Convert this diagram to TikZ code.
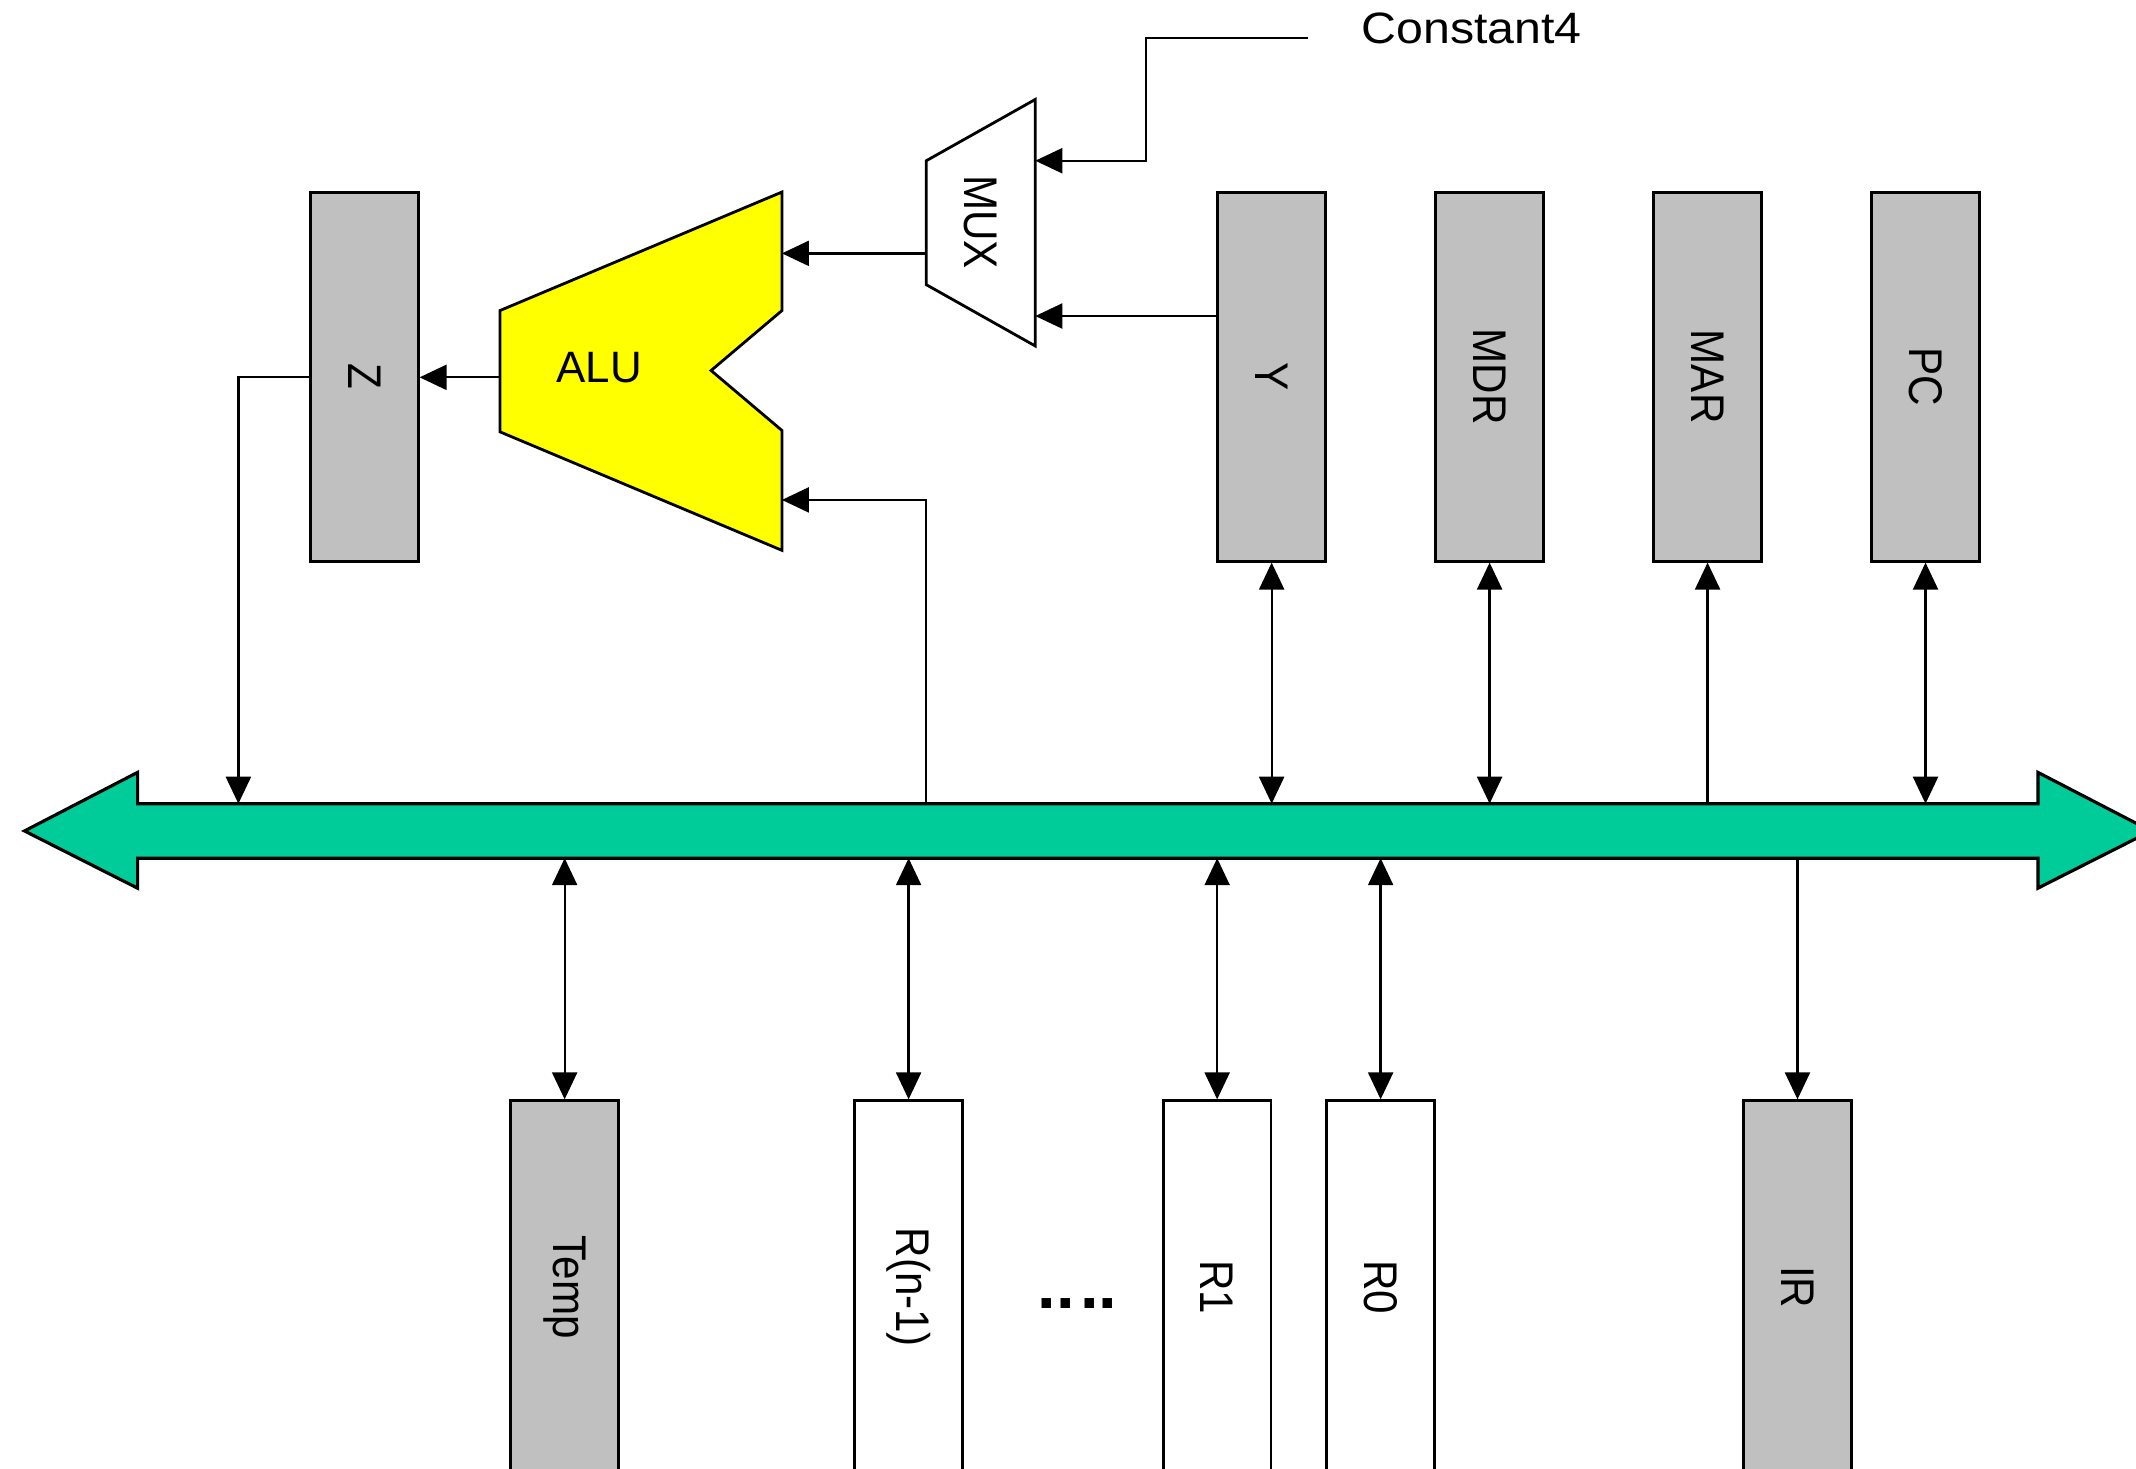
\documentclass[tikz,border=0pt]{standalone}
\usepackage{fontspec}
\setmainfont{Liberation Sans}
\usetikzlibrary{arrows.meta,calc}
\definecolor{regGray}{HTML}{C0C0C0}
\definecolor{busGreen}{HTML}{00CC99}
\definecolor{aluYellow}{HTML}{FFFF00}
\newcommand{\stretchlbl}[1]{\scalebox{1}[1.12]{#1}}
\begin{document}
\begin{tikzpicture}[x=0.013622cm,y=-0.013622cm,
  conn/.style={line width=0.65pt},
  tip/.style={-{Triangle[length=0.27cm,width=0.25cm]}},
  both/.style={{Triangle[length=0.27cm,width=0.25cm]}-{Triangle[length=0.27cm,width=0.25cm]}},
  reg/.style={draw, line width=0.8pt, fill=regGray, minimum width=1.076cm, minimum height=3.692cm, inner sep=0pt},
  regb/.style={draw, line width=0.8pt, minimum width=1.076cm, minimum height=3.732cm, inner sep=0pt},
  rlbl/.style={rotate=-90, inner sep=0pt, font=\fontsize{12}{14}\selectfont},
  hlbl/.style={inner sep=0pt, font=\fontsize{12.5}{14}\selectfont}
]
\useasboundingbox (0,0) rectangle (1568,1078);
\clip (0,0) rectangle (1568,1078);

% bus
\coordinate (bustop) at (0,590);
\coordinate (busbot) at (0,630);
\draw[line width=0.9pt, fill=busGreen, line join=miter]
  (18,610) -- (101,567) -- (101,590) -- (1496,590) -- (1496,567) -- (1579,610)
  -- (1496,652) -- (1496,630) -- (101,630) -- (101,652) -- cycle;

% top registers
\node[reg] (Z)   at (267.5,276.5) {};
\node[reg] (Y)   at (933.5,276.5) {};
\node[reg] (MDR) at (1093.5,276.5) {};
\node[reg] (MAR) at (1253.5,276.5) {};
\node[reg] (PC)  at (1413.5,276.5) {};
\node[rlbl] (Zl)   at (Z)   {\stretchlbl{Z}};
\node[rlbl] (Yl)   at (Y)   {\stretchlbl{Y}};
\node[rlbl] (MDRl) at (MDR) {\stretchlbl{MDR}};
\node[rlbl] (MARl) at (MAR) {\stretchlbl{MAR}};
\node[rlbl] (PCl)  at (PC)  {\stretchlbl{PC}};

% bottom registers
\node[regb, fill=regGray] (Temp) at (414.5,945) {};
\node[regb, fill=white]   (Rn)   at (667,945) {};
\node[regb, fill=white]   (R1)   at (893.5,945) {};
\node[regb, fill=white]   (R0)   at (1013.5,945) {};
\node[regb, fill=regGray] (IR)   at (1319.5,945) {};
\node[rlbl] (Templ) at (Temp) {\stretchlbl{Temp}};
\node[rlbl] (Rnl)   at (Rn)   {\stretchlbl{R(n-1)}};
\node[rlbl] (R1l)   at (R1)   {\stretchlbl{R1}};
\node[rlbl] (R0l)   at (R0)   {\stretchlbl{R0}};
\node[rlbl] (IRl)   at (IR)   {\stretchlbl{IR}};
\node[inner sep=0pt, font=\fontsize{19}{20}\bfseries\selectfont] (dots) at (791,957) {..\kern1.6pt..};

% ALU
\draw[line width=0.8pt, fill=aluYellow, line join=miter]
  (367,228) -- (574,141) -- (574,228) -- (522,272) -- (574,316) -- (574,404) -- (367,317) -- cycle;
\node[hlbl] (alu) at (440,270) {ALU};
\coordinate (aluA) at (574,186);
\coordinate (aluB) at (574,367);
\coordinate (aluOut) at (367,277);

% MUX
\draw[line width=0.8pt, fill=white, line join=miter]
  (680,118) -- (760,73) -- (760,254) -- (680,209) -- cycle;
\node[rlbl] (mux) at (720,163) {\stretchlbl{MUX}};
\coordinate (muxIn1) at (760,118);
\coordinate (muxIn2) at (760,232);
\coordinate (muxOut) at (680,186);

% Constant4
\node[hlbl, anchor=west] (c4l) at (999,20.5) {\scalebox{1.10}[1]{Constant4}};
\coordinate (c4) at (960,28);
\coordinate (c4bend) at (841,28);
\draw[conn,tip] (c4) -- (c4bend) |- (muxIn1);

% datapath connectors
\draw[conn,tip] (Y.west |- muxIn2) -- (muxIn2);
\draw[conn,tip] (muxOut) -- (aluA);
\draw[conn,tip] (muxOut |- bustop) -- (muxOut |- aluB) -- (aluB);
\draw[conn,tip] (aluOut) -- (Z.east |- aluOut);
\coordinate (zbend) at (175,277);
\draw[conn,tip] (Z.west |- zbend) -- (zbend) -- (zbend |- bustop);

\draw[conn,both] (Y.south) -- (Y.south |- bustop);
\draw[conn,both] (MDR.south) -- (MDR.south |- bustop);
\draw[conn,tip] (MAR.south |- bustop) -- (MAR.south);
\draw[conn,both] (PC.south) -- (PC.south |- bustop);

\draw[conn,both] (Temp.north |- busbot) -- (Temp.north);
\draw[conn,both] (Rn.north |- busbot) -- (Rn.north);
\draw[conn,both] (R1.north |- busbot) -- (R1.north);
\draw[conn,both] (R0.north |- busbot) -- (R0.north);
\draw[conn,tip] (IR.north |- busbot) -- (IR.north);
\end{tikzpicture}
\end{document}
